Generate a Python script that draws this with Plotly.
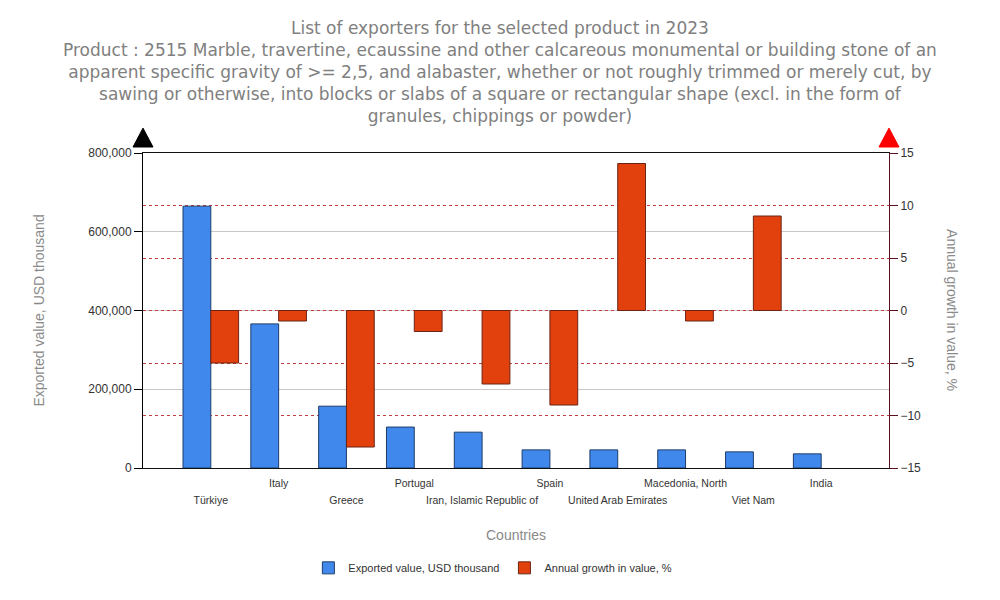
import plotly.graph_objects as go

countries = ["Türkiye", "Italy", "Greece", "Portugal", "Iran, Islamic Republic of",
             "Spain", "United Arab Emirates", "Macedonia, North", "Viet Nam", "India"]
export_value = [665000, 366000, 157000, 104000, 91000, 46000, 46000, 46000, 41000, 36000]
growth = [-5, -1, -13, -2, -7, -9, 14, -1, 9, None]

left_ticks = [0, 200000, 400000, 600000, 800000]
left_ticktext = ["0", "200,000", "400,000", "600,000", "800,000"]
right_ticks = [-15, -10, -5, 0, 5, 10, 15]

title_text = ("List of exporters for the selected product in 2023<br>"
              "Product : 2515 Marble, travertine, ecaussine and other calcareous monumental or building stone of an<br>"
              "apparent specific gravity of >= 2,5, and alabaster, whether or not roughly trimmed or merely cut, by<br>"
              "sawing or otherwise, into blocks or slabs of a square or rectangular shape (excl. in the form of<br>"
              "granules, chippings or powder)")

xpos = list(range(len(countries)))
# staggered labels: odd indices on the upper row, even indices on the lower row
upper_vals = [i for i in xpos if i % 2 == 1]
upper_text = [countries[i] for i in upper_vals]
lower_vals = [i for i in xpos if i % 2 == 0]
lower_text = [countries[i] for i in lower_vals]

fig = go.Figure()
fig.add_trace(go.Bar(x=xpos, y=export_value, name="Exported value, USD thousand",
                     marker=dict(color="#4188ec", line=dict(color="#1d3d6a", width=1)),
                     width=0.41, offset=-0.41, xaxis="x", yaxis="y"))
fig.add_trace(go.Bar(x=xpos, y=growth, name="Annual growth in value, %",
                     marker=dict(color="#e2410d", line=dict(color="#6a2414", width=1)),
                     width=0.41, offset=0, xaxis="x2", yaxis="y2"))

fig.update_layout(
    width=1000, height=600,
    margin=dict(l=143, r=111, t=153, b=132),
    paper_bgcolor="white", plot_bgcolor="white",
    font=dict(family="Liberation Sans", size=11, color="#333333"),
    xaxis=dict(tickmode="array", tickvals=upper_vals, ticktext=upper_text, range=[-1.0, 10.0],
               showgrid=False, zeroline=False, showline=True, linecolor="#111111", linewidth=1,
               mirror=True, ticks="", tickangle=0, ticklabelstandoff=5,
               tickfont=dict(size=10.5, color="#333333")),
    xaxis2=dict(tickmode="array", tickvals=lower_vals, ticktext=lower_text, range=[-1.0, 10.0],
                overlaying="x", side="bottom", anchor="y2",
                showgrid=False, zeroline=False, showline=False,
                ticks="", tickangle=0, ticklabelstandoff=24,
                tickfont=dict(size=10.5, color="#333333")),
    yaxis=dict(range=[0, 800000], tickvals=left_ticks, ticktext=left_ticktext,
               showgrid=True, gridcolor="#c8c8c8", gridwidth=1, zeroline=False,
               showline=True, linecolor="#000000", linewidth=1, ticks="outside", ticklen=8,
               tickcolor="#000000", tickfont=dict(size=12, color="#333333")),
    yaxis2=dict(range=[-15, 15], tickvals=right_ticks, overlaying="y", side="right", anchor="x2",
                showgrid=True, gridcolor="#c04040", griddash="dot", gridwidth=1, zeroline=False,
                showline=True, linecolor="#5a1020", linewidth=1, ticks="outside", ticklen=8,
                tickcolor="#5a1020", tickfont=dict(size=12, color="#333333")),
    legend=dict(orientation="h", x=0.469, xanchor="center", y=-0.317, yanchor="middle",
                font=dict(size=11, color="#333333"), traceorder="normal"),
    showlegend=True,
    annotations=[
        dict(text=title_text, xref="paper", yref="paper", x=0.479, xanchor="center",
             y=(468 - 16) / 315, yanchor="top", showarrow=False, align="center",
             font=dict(family="DejaVu Sans", size=17, color="#808080")),
        dict(text="Countries", xref="paper", yref="paper", x=0.5, y=-0.213, showarrow=False,
             font=dict(size=14, color="#8a8a8a"), yanchor="middle"),
        dict(text="Exported value, USD thousand", xref="paper", yref="paper", x=-0.1407, y=0.5,
             xanchor="center", yanchor="middle",
             textangle=-90, showarrow=False, font=dict(size=14, color="#8a8a8a")),
        dict(text="Annual growth in value, %", xref="paper", yref="paper", x=1.085, y=0.5,
             xanchor="center", yanchor="middle",
             textangle=90, showarrow=False, font=dict(size=14, color="#8a8a8a")),
    ],
    shapes=[
        dict(type="path", xref="paper", yref="paper",
             path="M -0.0134,1.019 L 0.0134,1.019 L 0,1.079 Z",
             fillcolor="#000000", line=dict(color="#000000", width=1)),
        dict(type="path", xref="paper", yref="paper",
             path="M 0.9866,1.019 L 1.0134,1.019 L 1,1.079 Z",
             fillcolor="#ff0000", line=dict(color="#ff0000", width=1)),
    ],
)

fig.write_html("out.html")
